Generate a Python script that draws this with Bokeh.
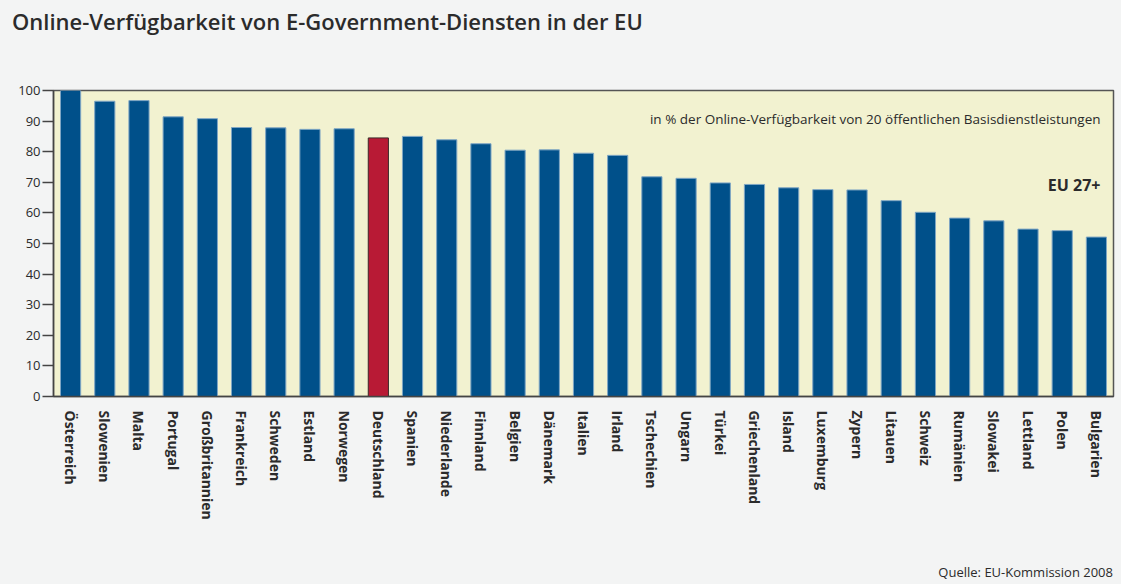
from bokeh.plotting import figure
from bokeh.models import FactorRange, Range1d, Label, ColumnDataSource, FixedTicker, Div
from bokeh.layouts import column
from bokeh.embed import file_html
from bokeh.resources import INLINE

countries = ["Österreich", "Slowenien", "Malta", "Portugal", "Großbritannien", "Frankreich",
             "Schweden", "Estland", "Norwegen", "Deutschland", "Spanien", "Niederlande",
             "Finnland", "Belgien", "Dänemark", "Italien", "Irland", "Tschechien", "Ungarn",
             "Türkei", "Griechenland", "Island", "Luxemburg", "Zypern", "Litauen", "Schweiz",
             "Rumänien", "Slowakei", "Lettland", "Polen", "Bulgarien"]
values = [100.0, 96.5, 96.7, 91.4, 90.8, 87.9, 87.8, 87.3, 87.5, 84.5, 85.0, 83.9,
          82.6, 80.5, 80.6, 79.5, 78.8, 71.8, 71.3, 69.8, 69.3, 68.2, 67.6, 67.5, 64.0,
          60.2, 58.3, 57.4, 54.7, 54.2, 52.1]
highlight = "Deutschland"
y_ticks = [0, 10, 20, 30, 40, 50, 60, 70, 80, 90, 100]

title_text = "Online-Verfügbarkeit von E-Government-Diensten in der EU"
note_text = "in % der Online-Verfügbarkeit von 20 öffentlichen Basisdienstleistungen"
group_text = "EU 27+"
source_text = "Quelle: EU-Kommission 2008"

BLUE = "#00508A"
RED = "#B81A35"
PAGE = "#F3F4F4"
PLOT_BG = "#F2F2D0"
TXT = "#2B2B2B"
FONT = "Open Sans"

colors = [RED if c == highlight else BLUE for c in countries]
edges = ["#3A2A2A" if c == highlight else "#7FA6C4" for c in countries]
src = ColumnDataSource(dict(x=countries, top=values, fill=colors, edge=edges))

title_div = Div(text=title_text, width=1121, height=40, margin=(0, 0, 0, 0),
                styles={"font-family": FONT, "font-size": "22px", "font-weight": "600",
                        "color": TXT, "line-height": "26px", "padding-top": "8px",
                        "padding-left": "12px", "box-sizing": "border-box",
                        "background-color": PAGE})
source_div = Div(text=source_text, width=1121, height=30, margin=(0, 0, 0, 0),
                 styles={"font-family": FONT, "font-size": "13px", "color": TXT,
                         "line-height": "16px", "padding-top": "10px", "padding-right": "8px",
                         "text-align": "right", "box-sizing": "border-box",
                         "background-color": PAGE})

p = figure(x_range=FactorRange(factors=countries, range_padding=0),
           y_range=Range1d(0, 100),
           width=1121, height=514, margin=(0, 0, 0, 0),
           min_border_left=53, min_border_right=8, min_border_top=50, min_border_bottom=158,
           output_backend="svg", toolbar_location=None, tools="")

p.vbar(x="x", top="top", width=0.59, bottom=0, source=src,
       fill_color="fill", line_color="edge", line_width=1)

p.background_fill_color = PLOT_BG
p.border_fill_color = PAGE
p.outline_line_color = "#555555"
p.outline_line_width = 1.5
p.xgrid.grid_line_color = None
p.ygrid.grid_line_color = None

p.yaxis.ticker = FixedTicker(ticks=y_ticks)
p.yaxis.major_tick_out = 11
p.yaxis.major_tick_in = 0
p.yaxis.minor_tick_line_color = None
p.yaxis.axis_line_color = "#444444"
p.yaxis.axis_line_width = 1.5
p.yaxis.major_tick_line_color = "#444444"
p.yaxis.major_tick_line_width = 1.5
p.yaxis.major_label_text_font = FONT
p.yaxis.major_label_text_font_size = "13px"
p.yaxis.major_label_text_color = TXT
p.yaxis.major_label_standoff = 2

p.xaxis.major_tick_line_color = None
p.xaxis.minor_tick_line_color = None
p.xaxis.axis_line_color = "#444444"
p.xaxis.axis_line_width = 1.5
p.xaxis.major_label_orientation = -1.5707963
p.xaxis.major_label_text_font = FONT
p.xaxis.major_label_text_font_style = "bold"
p.xaxis.major_label_text_font_size = "14px"
p.xaxis.major_label_text_color = TXT
p.xaxis.major_label_standoff = 8

p.add_layout(Label(x=30.62, y=90.8, text=note_text, text_font=FONT, text_font_size="13.5px",
                   text_color=TXT, text_baseline="middle", text_align="right"))
p.add_layout(Label(x=30.62, y=69.0, text=group_text, text_font=FONT, text_font_size="16px",
                   text_font_style="bold", text_color=TXT, text_baseline="middle", text_align="right"))

layout = column(title_div, p, source_div, spacing=0, margin=(0, 0, 0, 0),
                styles={"background-color": PAGE})

html = file_html(layout, INLINE)
open("out.html", "w").write(html)
